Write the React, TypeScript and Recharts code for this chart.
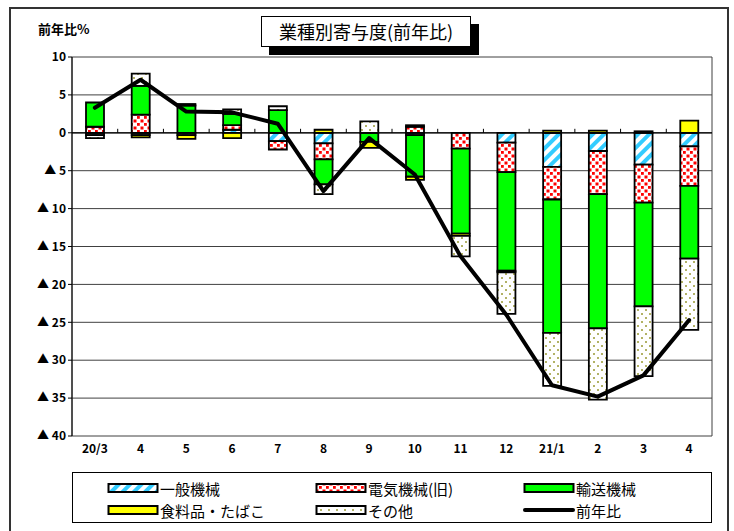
// 業種別寄与度（前年比）— stacked contributions + YoY line

import type { CSSProperties } from 'react'
import {
  ComposedChart, Bar, Line, XAxis, YAxis, CartesianGrid, ReferenceLine,
} from 'recharts'

const categories = ['20/3', '4', '5', '6', '7', '8', '9', '10', '11', '12', '21/1', '2', '3', '4']
const general   = [-0.3, -0.3, -0.3, 0.4, -1.1, -1.4, 0, -0.3, 0, -1.3, -4.5, -2.4, -4.2, -1.8]
const electric  = [0.8, 2.4, 0, 0.6, -1.1, -2.1, 0, 0.8, -2.1, -3.9, -4.3, -5.7, -5.0, -5.2]
const transport = [3.2, 3.8, 3.6, 1.5, 3.0, -3.3, -1.2, -5.5, -11.2, -13.0, -17.6, -17.7, -13.7, -9.6]
const food      = [0, -0.3, -0.5, -0.7, 0, 0.4, -0.8, -0.4, -0.3, -0.2, 0.3, 0.3, 0.2, 1.6]
const others    = [-0.4, 1.6, 0.2, 0.6, 0.5, -1.3, 1.5, 0.2, -2.7, -5.5, -7.0, -9.4, -9.2, -9.4]
const yoy       = [3.3, 7.0, 2.8, 2.7, 1.2, -7.7, -0.7, -5.5, -16.3, -24.0, -33.3, -34.8, -32.0, -24.7]
const yTicks    = [10, 5, 0, -5, -10, -15, -20, -25, -30, -35, -40]

const FONT = '"Noto Sans CJK JP", "Noto Sans", sans-serif'
const GRID = '#404040'

const data = categories.map((c, i) => ({
  cat: c, general: general[i], electric: electric[i], transport: transport[i],
  food: food[i], others: others[i], yoy: yoy[i],
}))

const legendItems = [
  { name: '一般機械', fill: 'url(#pGeneral)' },
  { name: '電気機械(旧)', fill: 'url(#pElectric)' },
  { name: '輸送機械', fill: '#00ff00' },
  { name: '食料品・たばこ', fill: '#ffff00' },
  { name: 'その他', fill: 'url(#pOthers)' },
  { name: '前年比', line: true },
]

const yFmt = (v: number) => (v < 0 ? `▲ ${-v}` : `${v}`)

// zero line with small upward ticks between the categories
function ZeroLine(p: any) {
  const { x1, x2, y1 } = p
  const step = (x2 - x1) / categories.length
  return (
    <g>
      <line x1={x1} x2={x2} y1={y1} y2={y1} stroke="#000" strokeWidth={1.2} />
      {categories.slice(1).map((_, i) => (
        <line key={i} x1={x1 + step * (i + 1)} x2={x1 + step * (i + 1)}
          y1={y1} y2={y1 - 4} stroke="#000" strokeWidth={1} />
      ))}
    </g>
  )
}

export default function App() {
  return (
    <div style={s.page}>
      <div style={s.frame} />
      <div style={s.yLabel}>前年比%</div>
      <div style={s.title}>業種別寄与度(前年比)</div>

      <ComposedChart width={734} height={531} data={data} stackOffset="sign"
        margin={{ top: 57, right: 22, bottom: 65, left: 10 }} style={s.chart}>
        <defs>
          <pattern id="pGeneral" width="8" height="8" patternUnits="userSpaceOnUse"
            patternTransform="rotate(45)">
            <rect width="8" height="8" fill="#fff" />
            <rect width="4" height="8" fill="#33ccff" />
          </pattern>
          <pattern id="pElectric" width="7" height="7" patternUnits="userSpaceOnUse">
            <rect width="7" height="7" fill="#fff" />
            <rect x="0.5" y="0.5" width="3" height="3" fill="#ff0000" />
            <rect x="4" y="4" width="2.8" height="2.8" fill="#ff0000" />
          </pattern>
          <pattern id="pOthers" width="8" height="8" patternUnits="userSpaceOnUse">
            <rect width="8" height="8" fill="#fff" />
            <circle cx="2" cy="2" r="1" fill="#999933" />
            <circle cx="6" cy="6" r="1" fill="#999933" />
          </pattern>
        </defs>

        <CartesianGrid stroke={GRID} strokeWidth={1}
          verticalCoordinatesGenerator={({ offset }: any) => [offset.left, offset.left + offset.width]} />
        <XAxis dataKey="cat" axisLine={false} tickLine={false} height={30} interval={0}
          tick={{ fontSize: 12, fill: '#000', fontFamily: FONT, fontWeight: 700 }} />
        <YAxis domain={[-40, 10]} ticks={yTicks} width={62} tickFormatter={yFmt}
          interval={0} stroke="#000" tickSize={4}
          tick={{ fontSize: 12, fill: '#000', fontFamily: FONT, fontWeight: 700 }} />
        <ReferenceLine y={0} shape={ZeroLine} />

        <Bar dataKey="general" stackId="a" barSize={18} fill="url(#pGeneral)"
          stroke="#000" strokeWidth={1.8} isAnimationActive={false} />
        <Bar dataKey="electric" stackId="a" barSize={18} fill="url(#pElectric)"
          stroke="#000" strokeWidth={1.8} isAnimationActive={false} />
        <Bar dataKey="transport" stackId="a" barSize={18} fill="#00ff00"
          stroke="#000" strokeWidth={1.8} isAnimationActive={false} />
        <Bar dataKey="food" stackId="a" barSize={18} fill="#ffff00"
          stroke="#000" strokeWidth={1.8} isAnimationActive={false} />
        <Bar dataKey="others" stackId="a" barSize={18} fill="url(#pOthers)"
          stroke="#000" strokeWidth={1.8} isAnimationActive={false} />

        <Line type="linear" dataKey="yoy" stroke="#000" strokeWidth={4}
          strokeLinejoin="round" strokeLinecap="round" dot={false} isAnimationActive={false} />
      </ComposedChart>

      <div style={s.legend}>
        {legendItems.map(it => (
          <div key={it.name} style={s.legendItem}>
            <svg width={52} height={12} style={{ display: 'block' }}>
              {it.line
                ? <line x1={2} x2={50} y1={6} y2={6} stroke="#000" strokeWidth={4} strokeLinecap="round" />
                : <rect x={1.5} y={2} width={49} height={8} fill={it.fill} stroke="#000" strokeWidth={2} />}
            </svg>
            <span style={s.legendText}>{it.name}</span>
          </div>
        ))}
      </div>
    </div>
  )
}

const s: Record<string, CSSProperties> = {
  page: {
    position: 'absolute', left: 0, top: 0, width: 734, height: 531,
    background: '#fff', overflow: 'hidden', fontFamily: FONT,
  },
  chart: { position: 'absolute', left: 0, top: 0 },
  frame: {
    position: 'absolute', left: 9, top: 7, width: 720, height: 540,
    border: '2px solid #333', boxSizing: 'border-box',
  },
  yLabel: {
    position: 'absolute', left: 38, top: 19, fontSize: 13, fontWeight: 700, color: '#000',
  },
  title: {
    position: 'absolute', left: 261, top: 16, width: 210, height: 31, boxSizing: 'border-box',
    border: '1.5px solid #000', background: '#fff', boxShadow: '8px 8px 0 #000',
    fontSize: 18, lineHeight: '28px', textAlign: 'center', color: '#000', zIndex: 2,
  },
  legend: {
    position: 'absolute', left: 72, top: 472, width: 640, height: 51, boxSizing: 'border-box',
    border: '1.5px solid #000', display: 'grid', gridTemplateColumns: '208px 208px 208px',
    gridTemplateRows: '22px 22px', padding: '4px 0 0 34px', background: '#fff',
  },
  legendItem: { display: 'flex', alignItems: 'center' },
  legendText: { fontSize: 15, color: '#000', whiteSpace: 'nowrap', marginLeft: 1 },
}
